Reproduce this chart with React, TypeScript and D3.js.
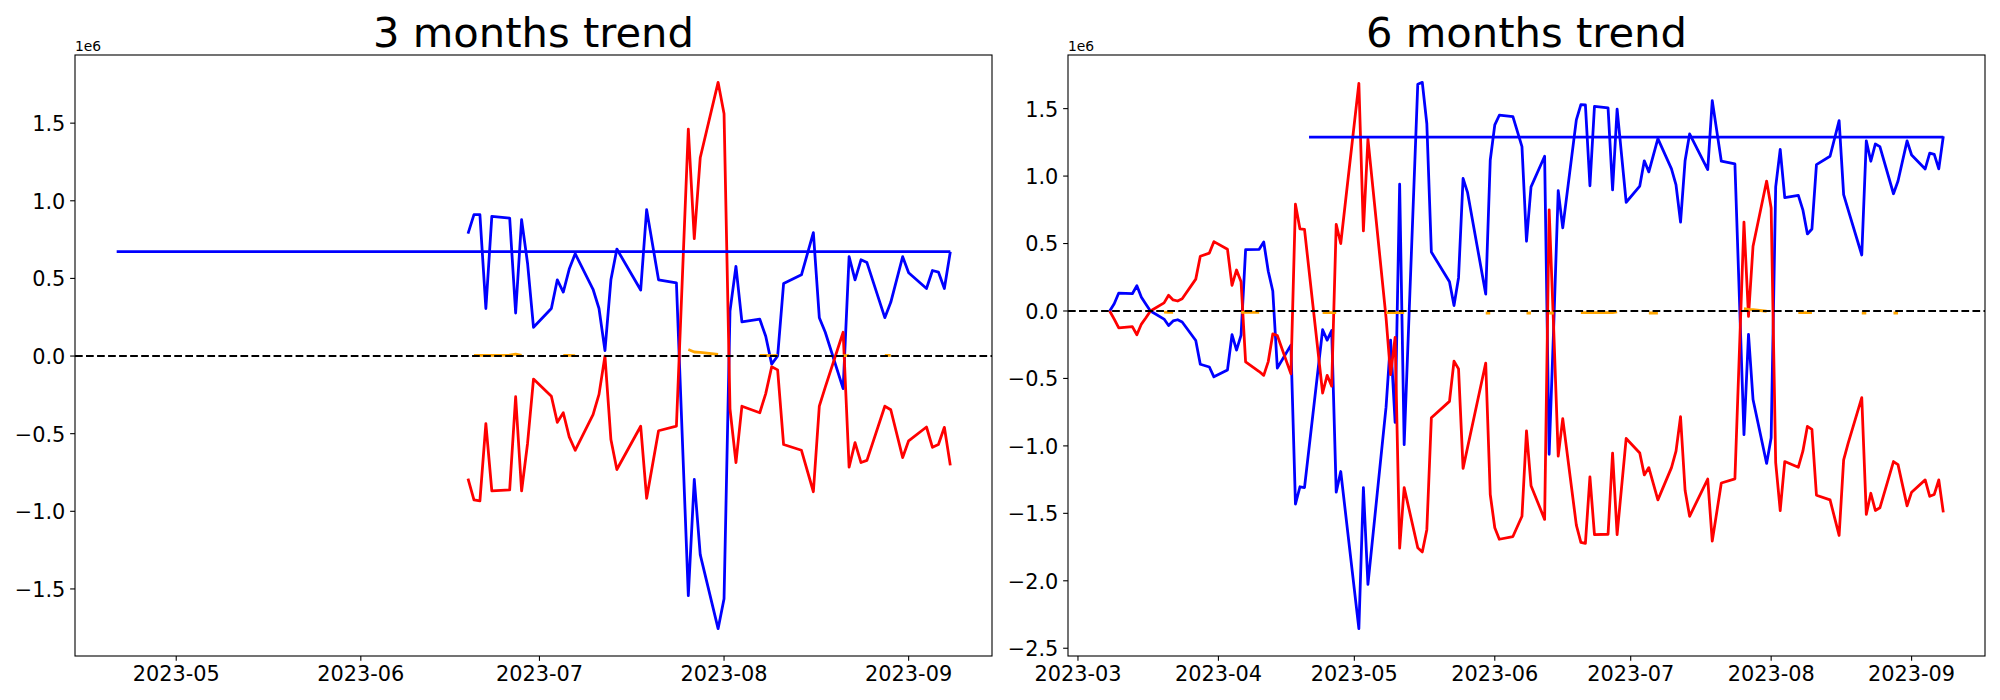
import React from "react";
import * as d3 from "d3";

// ---------- data (values in units of 1e6) ----------
const LEFT_DATES = [
  "2023-06-19","2023-06-20","2023-06-21","2023-06-22","2023-06-23","2023-06-26","2023-06-27","2023-06-28","2023-06-29","2023-06-30",
  "2023-07-03","2023-07-04","2023-07-05","2023-07-06","2023-07-07","2023-07-10","2023-07-11","2023-07-12","2023-07-13","2023-07-14","2023-07-18","2023-07-19","2023-07-21","2023-07-24","2023-07-26","2023-07-27","2023-07-28","2023-07-31",
  "2023-08-01","2023-08-02","2023-08-03","2023-08-04","2023-08-07","2023-08-08","2023-08-09","2023-08-10","2023-08-11","2023-08-14","2023-08-16","2023-08-17","2023-08-18","2023-08-21","2023-08-22","2023-08-23","2023-08-24","2023-08-25","2023-08-28","2023-08-29","2023-08-31",
  "2023-09-01","2023-09-04","2023-09-05","2023-09-06","2023-09-07","2023-09-08",
];
const LEFT_BLUE = [
  0.788, 0.911, 0.911, 0.306, 0.899, 0.889, 0.277, 0.879, 0.598, 0.185,
  0.306, 0.491, 0.412, 0.56, 0.659, 0.43, 0.306, 0.035, 0.491, 0.689, 0.425, 0.943, 0.491, 0.472, -1.543, -0.795, -1.279, -1.756,
  -1.563, 0.289, 0.578, 0.22, 0.237, 0.128, -0.052, 0.0, 0.467, 0.523, 0.795, 0.247, 0.153, -0.21, 0.64, 0.491, 0.62, 0.602, 0.247, 0.346, 0.64,
  0.536, 0.435, 0.551, 0.541, 0.435, 0.672,
];
const LEFT_RED = [
  -0.79, -0.926, -0.933, -0.435, -0.869, -0.862, -0.262, -0.869, -0.563, -0.148,
  -0.259, -0.427, -0.365, -0.521, -0.607, -0.378, -0.247, 0.0, -0.538, -0.731, -0.452, -0.916, -0.481, -0.452, 1.462, 0.756, 1.277, 1.763,
  1.56, -0.341, -0.686, -0.323, -0.365, -0.242, -0.069, -0.089, -0.57, -0.607, -0.874, -0.323, -0.2, 0.153, -0.716, -0.558, -0.686, -0.672, -0.323, -0.346, -0.654,
  -0.546, -0.457, -0.588, -0.57, -0.459, -0.704,
];
const LEFT_ORANGE: (number | null)[] = [
  null, 0.004, 0.004, 0.004, 0.004, 0.006, 0.012, 0.004, null, null,
  null, null, 0.005, 0.004, 0.003, null, null, null, null, null, null, null, null, null, 0.042, 0.026, 0.024, 0.01,
  null, null, null, null, 0.005, 0.004, 0.003, 0.004, null, null, null, null, null, 0.003, 0.003, null, null, null, 0.004, 0.004, null,
  null, null, null, null, null, null,
];
const LEFT_MEAN = 0.672;

const RIGHT_DATES = [
  "2023-03-08","2023-03-09","2023-03-10","2023-03-13","2023-03-14","2023-03-15","2023-03-16","2023-03-17","2023-03-20","2023-03-21","2023-03-22","2023-03-23","2023-03-24","2023-03-27","2023-03-28","2023-03-30","2023-03-31",
  "2023-04-03","2023-04-04","2023-04-05","2023-04-06","2023-04-07","2023-04-10","2023-04-11","2023-04-12","2023-04-13","2023-04-14","2023-04-17","2023-04-18","2023-04-19","2023-04-20","2023-04-24","2023-04-25","2023-04-26","2023-04-27","2023-04-28",
  "2023-05-02","2023-05-03","2023-05-04","2023-05-08","2023-05-09","2023-05-10","2023-05-11","2023-05-12","2023-05-15","2023-05-16","2023-05-17","2023-05-18","2023-05-22","2023-05-23","2023-05-24","2023-05-25","2023-05-26","2023-05-30","2023-05-31",
  "2023-06-01","2023-06-02","2023-06-05","2023-06-07","2023-06-08","2023-06-09","2023-06-12","2023-06-13","2023-06-14","2023-06-15","2023-06-16","2023-06-19","2023-06-20","2023-06-21","2023-06-22","2023-06-23","2023-06-26","2023-06-27","2023-06-28","2023-06-30",
  "2023-07-03","2023-07-04","2023-07-05","2023-07-07","2023-07-10","2023-07-11","2023-07-12","2023-07-13","2023-07-14","2023-07-18","2023-07-19","2023-07-21","2023-07-24","2023-07-26","2023-07-27","2023-07-28","2023-07-31",
  "2023-08-01","2023-08-02","2023-08-03","2023-08-04","2023-08-07","2023-08-08","2023-08-09","2023-08-10","2023-08-11","2023-08-14","2023-08-16","2023-08-17","2023-08-18","2023-08-21","2023-08-22","2023-08-23","2023-08-24","2023-08-25","2023-08-28","2023-08-29","2023-08-31",
  "2023-09-01","2023-09-04","2023-09-05","2023-09-06","2023-09-07","2023-09-08",
];
const RIGHT_BLUE = [
  0, 0.054, 0.133, 0.128, 0.187, 0.102, 0.05, 0.0, -0.06, -0.108, -0.074, -0.065, -0.082, -0.219, -0.395, -0.415, -0.488,
  -0.437, -0.176, -0.29, -0.179, 0.454, 0.457, 0.511, 0.295, 0.148, -0.423, -0.253, -1.431, -1.303, -1.309, -0.139, -0.216, -0.145, -1.343, -1.19,
  -2.355, -1.309, -2.027, -0.713, -0.216, -0.826, 0.94, -0.991, 1.681, 1.695, 1.388, 0.437, 0.216, 0.04, 0.247, 0.982, 0.877, 0.125, 1.119,
  1.38, 1.451, 1.44, 1.218, 0.517, 0.92, 1.147, -1.062, -0.12, 0.892, 0.616, 1.417, 1.53, 1.528, 0.928, 1.516, 1.505, 0.897, 1.496, 0.806,
  0.926, 1.113, 1.031, 1.278, 1.053, 0.934, 0.659, 1.113, 1.312, 1.048, 1.559, 1.11, 1.09, -0.917, -0.173, -0.656, -1.13,
  -0.94, 0.92, 1.198, 0.84, 0.857, 0.75, 0.571, 0.608, 1.085, 1.147, 1.411, 0.863, 0.75, 0.415, 1.261, 1.11, 1.238, 1.218, 0.869, 0.963, 1.261,
  1.156, 1.053, 1.17, 1.161, 1.053, 1.295,
];
const RIGHT_RED = [
  0, -0.06, -0.125, -0.116, -0.176, -0.097, -0.05, 0.0, 0.06, 0.116, 0.082, 0.074, 0.091, 0.236, 0.406, 0.429, 0.514,
  0.457, 0.19, 0.304, 0.216, -0.378, -0.449, -0.477, -0.375, -0.17, -0.182, -0.466, 0.792, 0.608, 0.605, -0.608, -0.477, -0.557, 0.642, 0.5,
  1.687, 0.593, 1.275, -0.05, -0.471, -0.196, -1.758, -1.309, -1.755, -1.786, -1.621, -0.792, -0.67, -0.372, -0.429, -1.167, -1.01, -0.386, -1.36,
  -1.607, -1.692, -1.672, -1.522, -0.889, -1.295, -1.545, 0.75, -0.13, -1.076, -0.798, -1.587, -1.715, -1.723, -1.229, -1.658, -1.655, -1.053, -1.658, -0.945,
  -1.053, -1.215, -1.161, -1.4, -1.161, -1.039, -0.784, -1.329, -1.522, -1.246, -1.706, -1.275, -1.244, 0.659, -0.04, 0.48, 0.963,
  0.764, -1.124, -1.479, -1.116, -1.158, -1.039, -0.855, -0.877, -1.366, -1.4, -1.664, -1.104, -0.98, -0.642, -1.508, -1.351, -1.479, -1.459, -1.116, -1.139, -1.445,
  -1.343, -1.252, -1.374, -1.36, -1.252, -1.493,
];
const RIGHT_ORANGE: (number | null)[] = [
  null, null, null, null, null, null, null, null, -0.008, -0.01, -0.01, null, null, null, null, null, null,
  null, null, null, -0.01, -0.01, -0.01, null, null, null, null, null, null, null, null, -0.012, -0.012, -0.012, -0.012, null,
  null, null, null, -0.012, -0.012, -0.012, -0.012, -0.012, null, null, null, null, null, null, null, null, null, -0.015, -0.015,
  null, null, null, null, -0.015, -0.015, null, -0.015, -0.015, null, null, null, -0.012, -0.012, -0.012, -0.012, -0.012, -0.012, -0.006, null,
  null, null, -0.015, -0.015, null, null, null, null, null, null, null, null, null, 0.017, 0.012, 0.01, -0.002,
  null, null, null, null, -0.012, -0.012, -0.012, -0.012, null, null, null, null, null, -0.015, -0.015, null, null, null, -0.015, -0.015, null,
  null, null, null, null, null, null,
];
const RIGHT_MEAN = 1.289;

const MEAN_START = "2023-04-21";
const MEAN_END = "2023-09-08";

const LEFT_Y_TICKS = [-1.5, -1.0, -0.5, 0.0, 0.5, 1.0, 1.5];
const RIGHT_Y_TICKS = [-2.5, -2.0, -1.5, -1.0, -0.5, 0.0, 0.5, 1.0, 1.5];
const LEFT_X_TICKS = ["2023-05", "2023-06", "2023-07", "2023-08", "2023-09"];
const RIGHT_X_TICKS = ["2023-03", "2023-04", "2023-05", "2023-06", "2023-07", "2023-08", "2023-09"];

const TITLES = ["3 months trend", "6 months trend"];

// ---------- styles ----------
const FONT = "'DejaVu Sans', sans-serif";
const TICK_FS = 20.83;
const TITLE_FS = 41.67;
const OFFSET_FS = 13.89;
const LW = 2.78;
const ZERO_LW = 2.08;
const TOP = 55;
const BOTTOM = 656;

const parseDay = d3.utcParse("%Y-%m-%d");
const parseMonth = d3.utcParse("%Y-%m");
const fmt = (v: number) => d3.format(".1f")(v).replace("-", "\u2212");

type PanelProps = {
  title: string;
  dates: string[];
  blue: number[];
  red: number[];
  orange: (number | null)[];
  mean: number;
  yTicks: number[];
  xTicks: string[];
  left: number;
  right: number;
};

function Panel({ title, dates, blue, red, orange, mean, yTicks, xTicks, left, right }: PanelProps) {
  const ds = dates.map((s) => parseDay(s) as Date);
  const ms = parseDay(MEAN_START) as Date;
  const me = parseDay(MEAN_END) as Date;
  const allT = [...ds, ms, me].map((d) => d.getTime());
  const tMin = d3.min(allT) as number;
  const tMax = d3.max(allT) as number;
  const tSpan = tMax - tMin;
  const x = d3
    .scaleUtc()
    .domain([new Date(tMin - 0.05 * tSpan), new Date(tMax + 0.05 * tSpan)])
    .range([left, right]);

  const allV = [...blue, ...red, ...(orange.filter((v) => v != null) as number[]), mean];
  const vMin = d3.min(allV) as number;
  const vMax = d3.max(allV) as number;
  const vSpan = vMax - vMin;
  const y = d3
    .scaleLinear()
    .domain([vMin - 0.05 * vSpan, vMax + 0.05 * vSpan])
    .range([BOTTOM, TOP]);

  const line = d3
    .line<[Date, number | null]>()
    .defined((p) => p[1] != null)
    .x((p) => x(p[0]))
    .y((p) => y(p[1] as number));

  const bluePath = line(ds.map((d, i) => [d, blue[i]]));
  const redPath = line(ds.map((d, i) => [d, red[i]]));
  const orangePath = line(ds.map((d, i) => [d, orange[i]]));
  const meanPath = line([
    [ms, mean],
    [me, mean],
  ]);

  const tickLen = 4.86;
  const pad = 4.86;

  return (
    <g>
      <text
        x={(left + right) / 2}
        y={47}
        textAnchor="middle"
        fontFamily={FONT}
        fontSize={TITLE_FS}
        fill="#000"
      >
        {title}
      </text>
      <text x={left} y={51} fontFamily={FONT} fontSize={OFFSET_FS} fill="#000">
        1e6
      </text>
      <defs>
        <clipPath id={`clip-${left}`}>
          <rect x={left} y={TOP} width={right - left} height={BOTTOM - TOP} />
        </clipPath>
      </defs>
      <g clipPath={`url(#clip-${left})`}>
        <path d={bluePath || ""} fill="none" stroke="#0000ff" strokeWidth={LW} strokeLinejoin="round" />
        <path d={redPath || ""} fill="none" stroke="#ff0000" strokeWidth={LW} strokeLinejoin="round" />
        <path d={orangePath || ""} fill="none" stroke="#ffa500" strokeWidth={LW} strokeLinejoin="round" />
        <path d={meanPath || ""} fill="none" stroke="#0000ff" strokeWidth={LW} />
        <line
          x1={left}
          x2={right}
          y1={y(0)}
          y2={y(0)}
          stroke="#000"
          strokeWidth={ZERO_LW}
          strokeDasharray="7.7,3.33"
        />
      </g>
      <rect x={left} y={TOP} width={right - left} height={BOTTOM - TOP} fill="none" stroke="#000" strokeWidth={1.1} />
      {yTicks.map((v) => (
        <g key={`y${v}`}>
          <line x1={left - tickLen} x2={left} y1={y(v)} y2={y(v)} stroke="#000" strokeWidth={1.1} />
          <text
            x={left - tickLen - pad}
            y={y(v)}
            dy="0.38em"
            textAnchor="end"
            fontFamily={FONT}
            fontSize={TICK_FS}
            fill="#000"
          >
            {fmt(v)}
          </text>
        </g>
      ))}
      {xTicks.map((s) => {
        const xv = x(parseMonth(s) as Date);
        return (
          <g key={`x${s}`}>
            <line x1={xv} x2={xv} y1={BOTTOM} y2={BOTTOM + tickLen} stroke="#000" strokeWidth={1.1} />
            <text x={xv} y={BOTTOM + tickLen + pad + 15.5} textAnchor="middle" fontFamily={FONT} fontSize={TICK_FS} fill="#000">
              {s}
            </text>
          </g>
        );
      })}
    </g>
  );
}

export default function App() {
  return (
    <svg
      width={2000}
      height={700}
      style={{ position: "absolute", left: 0, top: 0, background: "#fff" }}
    >
      <rect x={0} y={0} width={2000} height={700} fill="#fff" />
      <Panel
        title={TITLES[0]}
        dates={LEFT_DATES}
        blue={LEFT_BLUE}
        red={LEFT_RED}
        orange={LEFT_ORANGE}
        mean={LEFT_MEAN}
        yTicks={LEFT_Y_TICKS}
        xTicks={LEFT_X_TICKS}
        left={75}
        right={992}
      />
      <Panel
        title={TITLES[1]}
        dates={RIGHT_DATES}
        blue={RIGHT_BLUE}
        red={RIGHT_RED}
        orange={RIGHT_ORANGE}
        mean={RIGHT_MEAN}
        yTicks={RIGHT_Y_TICKS}
        xTicks={RIGHT_X_TICKS}
        left={1068}
        right={1985}
      />
    </svg>
  );
}
